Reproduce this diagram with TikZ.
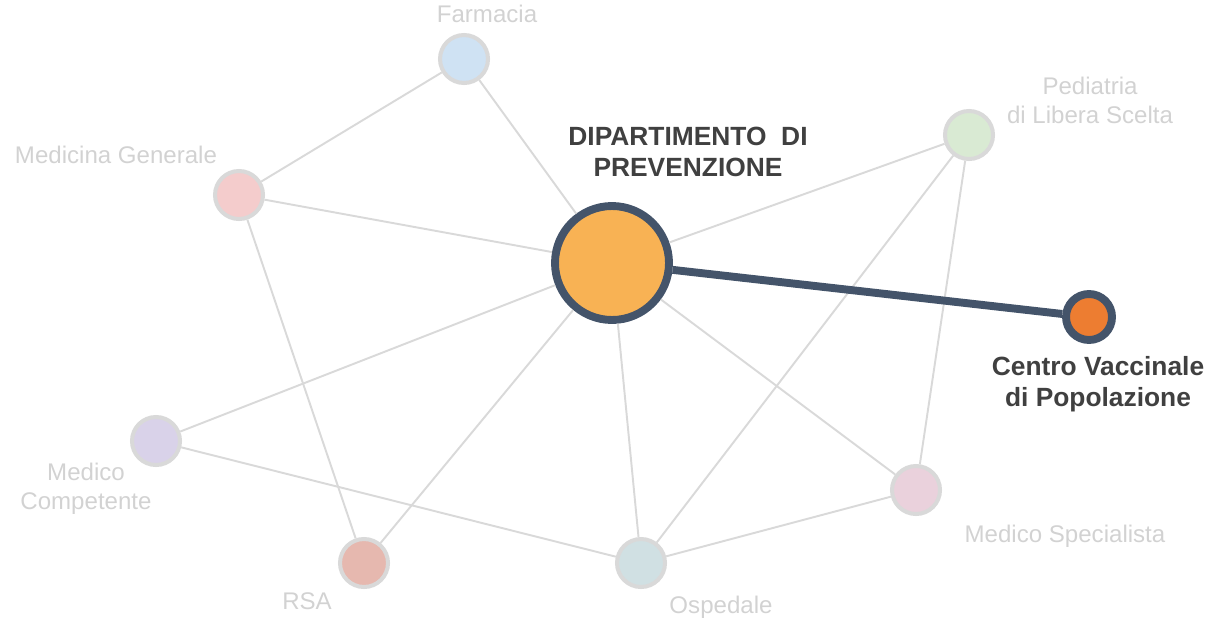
\documentclass[tikz,border=0pt]{standalone}
\usepackage{fontspec}
\setmainfont{Liberation Sans}
\usepackage{tikz}
\definecolor{lineGray}{RGB}{217,217,217}
\definecolor{textGray}{RGB}{210,210,210}
\definecolor{darkSlate}{RGB}{68,84,106}
\definecolor{darkText}{RGB}{64,64,64}
\definecolor{cFarmacia}{RGB}{207,226,243}
\definecolor{cMedGen}{RGB}{244,204,204}
\definecolor{cPediatria}{RGB}{217,234,211}
\definecolor{cMedComp}{RGB}{217,210,233}
\definecolor{cRSA}{RGB}{230,184,175}
\definecolor{cOspedale}{RGB}{208,224,227}
\definecolor{cMedSpec}{RGB}{234,209,220}
\definecolor{cDip}{RGB}{248,178,84}
\definecolor{cCentro}{RGB}{237,125,49}

\begin{document}
\begin{tikzpicture}[x=0.02cm, y=-0.02cm]%
  \tikzset{partner/.style={circle, draw=lineGray, line width=2.3pt, minimum size=0.96cm, inner sep=0pt}}
  \tikzset{soft label/.style={text=textGray, font=\fontsize{13.7}{16.5}\selectfont, align=center, inner sep=0pt}}
  \tikzset{hard label/.style={text=darkText, font=\fontsize{15}{18}\bfseries\selectfont, align=center, inner sep=0pt}}
  \tikzset{soft link/.style={draw, lineGray, line width=1.1pt}}
  \tikzset{hard link/.style={draw, darkSlate, line width=4.5pt}}

  \useasboundingbox (0,0) rectangle (1226,622);

  \node[partner, fill=cFarmacia] at (464,59) (FAR) {};
  \node[partner, fill=cMedGen] at (239,195) (MG) {};
  \node[partner, fill=cPediatria] at (969,135) (PLS) {};
  \node[partner, fill=cMedComp] at (156,441) (MC) {};
  \node[partner, fill=cRSA] at (364,563) (RSA) {};
  \node[partner, fill=cOspedale] at (641,563) (OSP) {};
  \node[partner, fill=cMedSpec] at (916,490) (MS) {};
  \node[circle, fill=cDip, draw=darkSlate, line width=4.5pt, minimum size=2.28cm, inner sep=0pt] at (612,263) (DIP) {};
  \node[circle, fill=cCentro, draw=darkSlate, line width=4.5pt, minimum size=0.92cm, inner sep=0pt] at (1089,317) (CVP) {};

  \node[soft label] at (487,14) (lFAR) {Farmacia};
  \node[soft label] at (116,155) (lMG) {Medicina Generale};
  \node[soft label] at (1090,100) (lPLS) {Pediatria\\di Libera Scelta};
  \node[soft label] at (86,489) (lMC) {Medico\\Competente};
  \node[soft label] at (307,601) (lRSA) {RSA};
  \node[soft label] at (721,607) (lOSP) {Ospedale};
  \node[soft label] at (1065,536) (lMS) {Medico Specialista};
  \node[hard label] at (688,152) (lDIP) {DIPARTIMENTO~~DI\\PREVENZIONE};
  \node[hard label] at (1098,384) (lCVP) {Centro~Vaccinale\\di Popolazione};

  \path[soft link] (FAR) edge (MG);
  \path[soft link] (FAR) edge (DIP);
  \path[soft link] (MG) edge (DIP);
  \path[soft link] (MG) edge (RSA);
  \path[soft link] (PLS) edge (DIP);
  \path[soft link] (PLS) edge (OSP);
  \path[soft link] (PLS) edge (MS);
  \path[soft link] (DIP) edge (MC);
  \path[soft link] (DIP) edge (RSA);
  \path[soft link] (DIP) edge (OSP);
  \path[soft link] (DIP) edge (MS);
  \path[soft link] (MC) edge (OSP);
  \path[soft link] (OSP) edge (MS);
  \path[hard link] (DIP) edge (CVP);
\end{tikzpicture}
\end{document}
